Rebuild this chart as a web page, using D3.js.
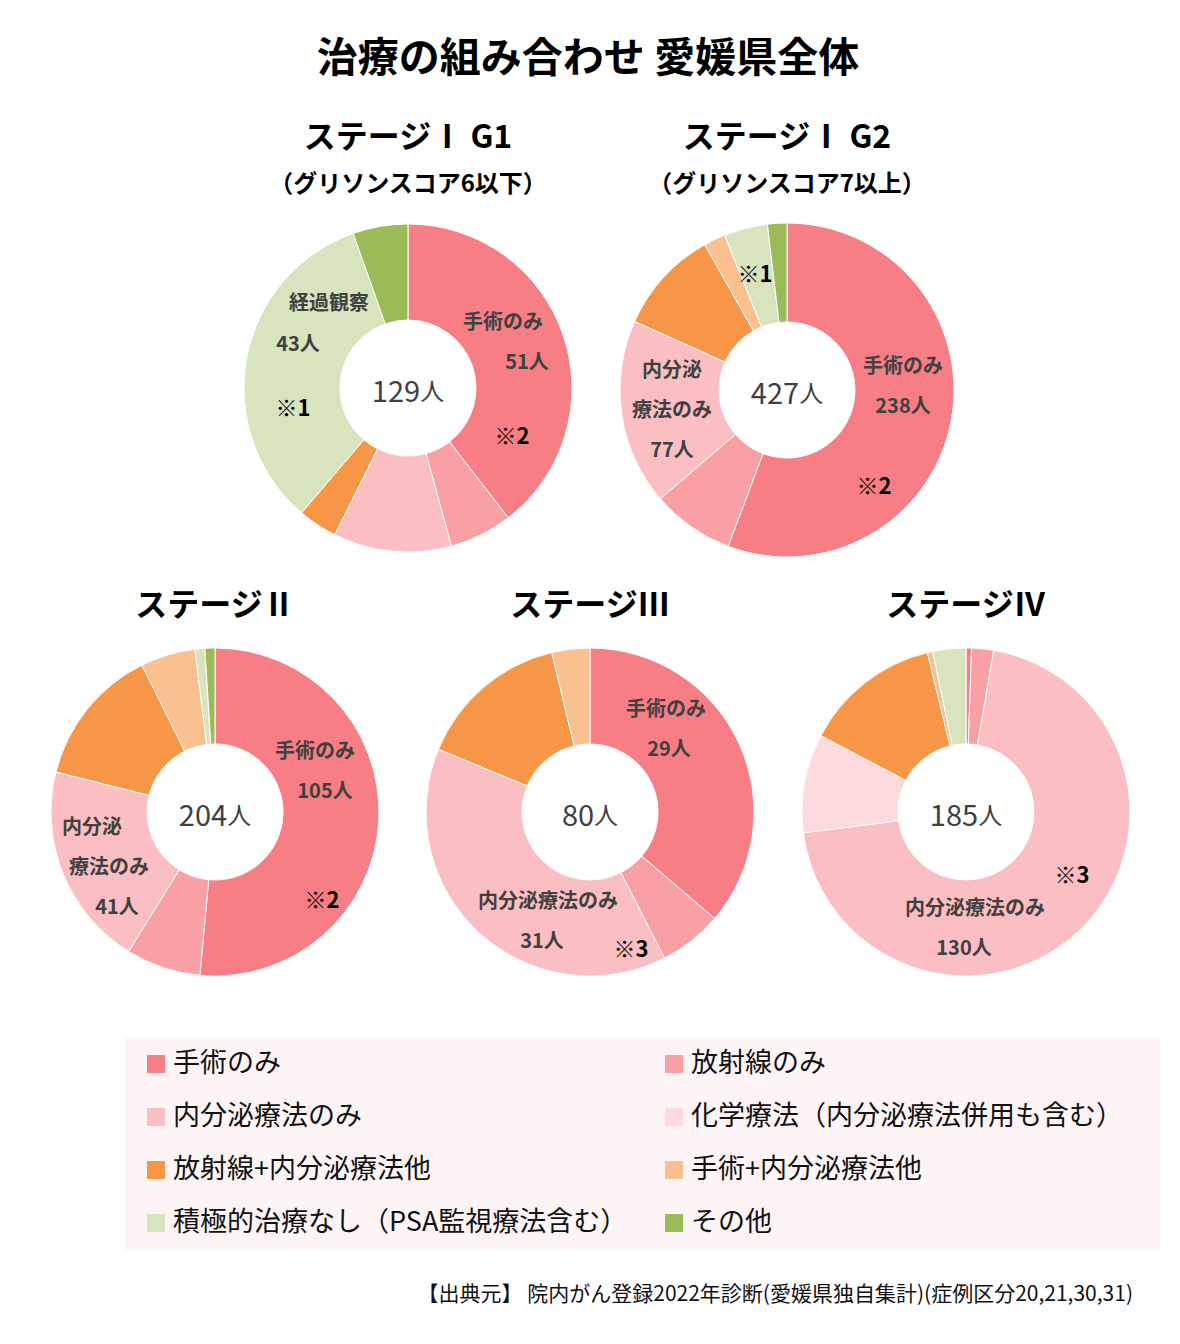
<!DOCTYPE html>
<html>
<head>
<meta charset="utf-8">
<script src="https://cdn.jsdelivr.net/npm/d3@7"></script>
<style>
  body { margin: 0; background: #fff; }
  svg { display: block; font-family: "Noto Sans CJK JP", "Noto Sans", sans-serif; }
</style>
</head>
<body>
<svg id="chart" width="1180" height="1344"></svg>
<script>
//////////// DATA ////////////

// treatment categories (legend order = slice order, clockwise from 12 o'clock)
var categories = [
    "手術のみ",
    "放射線のみ",
    "内分泌療法のみ",
    "化学療法（内分泌療法併用も含む）",
    "放射線+内分泌療法他",
    "手術+内分泌療法他",
    "積極的治療なし（PSA監視療法含む）",
    "その他"
];
var colors = ["#F87E85", "#F9A0A5", "#FBBEC2", "#FCDADD", "#F79646", "#FAC090", "#D7E4BD", "#9BBB59"];

// patients per category, one list per stage
var stage1g1 = [51, 8, 15, 0, 5, 0, 43, 7];
var stage1g2 = [238, 34, 77, 0, 43, 9, 18, 8];
var stage2 = [105, 15, 41, 0, 28, 11, 2, 2];
var stage3 = [29, 5, 31, 0, 12, 3, 0, 0];
var stage4 = [1, 4, 130, 18, 25, 1, 6, 0];

var stageTitles = ["ステージⅠ G1", "ステージⅠ G2", "ステージⅡ", "ステージⅢ", "ステージⅣ"];
var stageSubtitles = ["（グリソンスコア6以下）", "（グリソンスコア7以上）", null, null, null];

//////////// LAYOUT ////////////

var svg = d3.select("#chart");

var charts = [
    {values: stage1g1, cx: 408, cy: 388, r: 164, titleY: 134,
     labels: [
        {t: "手術のみ", dx: 95, dy: -68}, {t: "51人", dx: 119, dy: -28},
        {t: "経過観察", dx: -79, dy: -87}, {t: "43人", dx: -110, dy: -46},
        {t: "※1", dx: -115, dy: 18, mark: true}, {t: "※2", dx: 104, dy: 46, mark: true}]},
    {values: stage1g2, cx: 787, cy: 390, r: 167, titleY: 134,
     labels: [
        {t: "手術のみ", dx: 116, dy: -26}, {t: "238人", dx: 116, dy: 14},
        {t: "内分泌", dx: -115, dy: -22}, {t: "療法のみ", dx: -115, dy: 18}, {t: "77人", dx: -115, dy: 58},
        {t: "※1", dx: -32, dy: -118, mark: true}, {t: "※2", dx: 87, dy: 94, mark: true}]},
    {values: stage2, cx: 215, cy: 812, r: 164, titleY: 602,
     labels: [
        {t: "手術のみ", dx: 100, dy: -63}, {t: "105人", dx: 110, dy: -23},
        {t: "内分泌", dx: -123, dy: 13}, {t: "療法のみ", dx: -106, dy: 53}, {t: "41人", dx: -98, dy: 93},
        {t: "※2", dx: 107, dy: 86, mark: true}]},
    {values: stage3, cx: 590, cy: 812, r: 164, titleY: 602,
     labels: [
        {t: "手術のみ", dx: 76, dy: -105}, {t: "29人", dx: 79, dy: -65},
        {t: "内分泌療法のみ", dx: -42, dy: 87}, {t: "31人", dx: -48, dy: 127},
        {t: "※3", dx: 41, dy: 135, mark: true}]},
    {values: stage4, cx: 966, cy: 812, r: 164, titleY: 602,
     labels: [
        {t: "内分泌療法のみ", dx: 9, dy: 94}, {t: "130人", dx: -2, dy: 134},
        {t: "※3", dx: 106, dy: 61, mark: true}]}
];

// main title
svg.append("text")
    .attr("x", 588).attr("y", 54)
    .attr("text-anchor", "middle").attr("dominant-baseline", "central")
    .style("font-size", "41px").style("font-weight", "bold")
    .text("治療の組み合わせ 愛媛県全体");

var pie = d3.pie().sort(null).value(function (d) { return d; });

charts.forEach(function (c, i) {
    var g = svg.append("g").attr("transform", "translate(" + c.cx + "," + c.cy + ")");
    var arc = d3.arc().innerRadius(68).outerRadius(c.r);

    g.selectAll("path")
        .data(pie(c.values))
        .enter().append("path")
        .attr("d", arc)
        .attr("fill", function (d, j) { return colors[j]; })
        .attr("stroke", "#fff")
        .attr("stroke-width", function (d) { return d.value > 0 ? 1 : 0; });

    // total in the hole
    var total = d3.sum(c.values);
    var ct = g.append("text")
        .attr("text-anchor", "middle").attr("dominant-baseline", "central")
        .attr("y", 1)
        .style("fill", "#404040");
    ct.append("tspan").style("font-size", "29px").text(total);
    ct.append("tspan").style("font-size", "24px").text("人");

    // slice labels
    g.selectAll("text.lbl")
        .data(c.labels)
        .enter().append("text")
        .attr("class", "lbl")
        .attr("x", function (d) { return d.dx; })
        .attr("y", function (d) { return d.dy; })
        .attr("text-anchor", "middle").attr("dominant-baseline", "central")
        .style("font-weight", "bold")
        .style("font-size", function (d) { return d.mark ? "22px" : "20px"; })
        .style("fill", function (d) { return d.mark ? "#000" : "#404040"; })
        .text(function (d) { return d.t; });

    // stage titles
    svg.append("text")
        .attr("x", c.cx).attr("y", c.titleY)
        .attr("text-anchor", "middle").attr("dominant-baseline", "central")
        .style("font-size", "32px").style("font-weight", "bold")
        .style("white-space", "pre")
        .text(stageTitles[i]);
    if (stageSubtitles[i]) {
        svg.append("text")
            .attr("x", c.cx).attr("y", c.titleY + 47)
            .attr("text-anchor", "middle").attr("dominant-baseline", "central")
            .style("font-size", "24px").style("font-weight", "bold")
            .text(stageSubtitles[i]);
    }
});

//////////// LEGEND ////////////

svg.append("rect")
    .attr("x", 125).attr("y", 1038)
    .attr("width", 1035).attr("height", 212)
    .attr("fill", "#FDF5F5");

var legend = svg.append("g").selectAll("g")
    .data(categories)
    .enter().append("g")
    .attr("transform", function (d, i) {
        return "translate(" + (i % 2 === 0 ? 147 : 665) + "," + (1063 + Math.floor(i / 2) * 53) + ")";
    });

legend.append("rect")
    .attr("y", -8).attr("width", 18).attr("height", 18)
    .attr("fill", function (d, i) { return colors[i]; });

legend.append("text")
    .attr("x", 26).attr("y", -3)
    .attr("dominant-baseline", "central")
    .style("font-size", "27px")
    .style("fill", "#111")
    .text(function (d) { return d; });

// source note
svg.append("text")
    .attr("x", 1133).attr("y", 1292)
    .attr("text-anchor", "end").attr("dominant-baseline", "central")
    .style("font-size", "21px")
    .style("fill", "#111")
    .text("【出典元】 院内がん登録2022年診断(愛媛県独自集計)(症例区分20,21,30,31)");
</script>
</body>
</html>
